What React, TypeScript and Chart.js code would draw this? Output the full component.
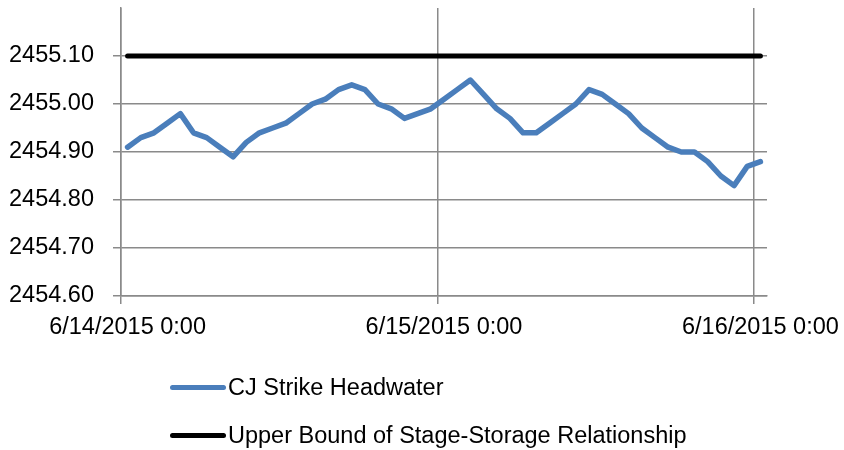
import React, { useEffect, useRef } from "react";
import { Chart, registerables } from "chart.js";

Chart.register(...registerables);

// Hourly categories, 6/14/2015 0:00 through 6/16/2015 0:00
const START_UTC = Date.UTC(2015, 5, 14, 0, 0);
const HOURS = 49;
const categories: string[] = Array.from({ length: HOURS }, (_, i) => {
  const d = new Date(START_UTC + i * 3600 * 1000);
  return `${d.getUTCMonth() + 1}/${d.getUTCDate()}/${d.getUTCFullYear()} ${d.getUTCHours()}:00`;
});

const tickLabels = ["6/14/2015 0:00", "6/15/2015 0:00", "6/16/2015 0:00"];

const headwater = [
  2454.91, 2454.93, 2454.94, 2454.96, 2454.98, 2454.94, 2454.93, 2454.91, 2454.89, 2454.92,
  2454.94, 2454.95, 2454.96, 2454.98, 2455.0, 2455.01, 2455.03, 2455.04, 2455.03, 2455.0,
  2454.99, 2454.97, 2454.98, 2454.99, 2455.01, 2455.03, 2455.05, 2455.02, 2454.99, 2454.97,
  2454.94, 2454.94, 2454.96, 2454.98, 2455.0, 2455.03, 2455.02, 2455.0, 2454.98, 2454.95,
  2454.93, 2454.91, 2454.9, 2454.9, 2454.88, 2454.85, 2454.83, 2454.87, 2454.88,
];

const UPPER_BOUND = 2455.1;
const upperBound = categories.map(() => UPPER_BOUND);

const seriesNames = ["CJ Strike Headwater", "Upper Bound of Stage-Storage Relationship"];
const seriesColors = ["#4A7EBB", "#000000"];

const Y_MIN = 2454.6;
const Y_MAX = 2455.2;
const Y_STEP = 0.1;

const FONT_FAMILY = '"Liberation Sans", Arial, sans-serif';
const FONT_SIZE = 23.5;
const GRID = "#8a8a8a";

export default function App() {
  const canvasRef = useRef<HTMLCanvasElement | null>(null);

  useEffect(() => {
    document.body.style.margin = "0";
    const canvas = canvasRef.current;
    if (!canvas) return;
    const chart = new Chart(canvas, {
      type: "line",
      data: {
        labels: categories,
        datasets: [
          {
            label: seriesNames[0],
            data: headwater,
            borderColor: seriesColors[0],
            backgroundColor: seriesColors[0],
            borderWidth: 5.5,
            pointRadius: 0,
            tension: 0,
            borderCapStyle: "round",
            borderJoinStyle: "round",
          },
          {
            label: seriesNames[1],
            data: upperBound,
            borderColor: seriesColors[1],
            backgroundColor: seriesColors[1],
            borderWidth: 5,
            pointRadius: 0,
            tension: 0,
            borderCapStyle: "round",
            borderJoinStyle: "round",
          },
        ],
      },
      options: {
        responsive: false,
        devicePixelRatio: 1,
        animation: false,
        layout: { padding: { top: 8, right: 77, left: 0, bottom: 0 } },
        plugins: {
          legend: { display: false },
          tooltip: { enabled: false },
        },
        scales: {
          x: {
            type: "category",
            offset: true,
            afterFit: (s: any) => {
              s.height = 154;
              s.paddingLeft = 0;
              s.paddingRight = 0;
            },
            grid: {
              offset: true,
              color: (ctx: any) =>
                typeof ctx.index === "number" && ctx.index % 24 === 0 ? GRID : "transparent",
              lineWidth: 1.5,
              tickLength: 8,
              drawTicks: true,
            },
            border: { color: GRID, width: 1.5 },
            ticks: {
              autoSkip: false,
              maxRotation: 0,
              minRotation: 0,
              padding: 9,
              color: "#000",
              font: { family: FONT_FAMILY, size: FONT_SIZE },
              callback: (_v: any, i: number) =>
                tickLabels.includes(categories[i]) ? categories[i] : "",
            },
          },
          y: {
            min: Y_MIN,
            max: Y_MAX,
            afterFit: (s: any) => {
              s.width = 121;
              s.paddingTop = 0;
              s.paddingBottom = 0;
            },
            grid: {
              color: GRID,
              lineWidth: 1.5,
              tickLength: 8,
            },
            border: { color: GRID, width: 1.5 },
            ticks: {
              stepSize: Y_STEP,
              padding: 19,
              color: "#000",
              font: { family: FONT_FAMILY, size: FONT_SIZE },
              callback: (v: any) => {
                const n = Number(v);
                if (Math.abs(n - Y_MAX) < 1e-6) return null;
                return n.toFixed(2);
              },
            },
          },
        },
      },
    });
    return () => chart.destroy();
  }, []);

  const legendRow = (i: number, top: number) => (
    <div
      key={i}
      style={{
        position: "absolute",
        left: 170,
        top,
        height: 26,
        display: "flex",
        alignItems: "center",
        fontFamily: FONT_FAMILY,
        fontSize: FONT_SIZE,
        color: "#000",
        whiteSpace: "nowrap",
      }}
    >
      <span
        style={{
          display: "inline-block",
          width: 56,
          height: 5,
          borderRadius: 3,
          background: seriesColors[i],
          marginRight: 2,
        }}
      />
      <span>{seriesNames[i]}</span>
    </div>
  );

  return (
    <div style={{ position: "relative", width: 844, height: 450, background: "#fff" }}>
      <canvas ref={canvasRef} width={844} height={450} style={{ display: "block", width: 844, height: 450 }} />
      {legendRow(0, 374)}
      {legendRow(1, 422)}
    </div>
  );
}
